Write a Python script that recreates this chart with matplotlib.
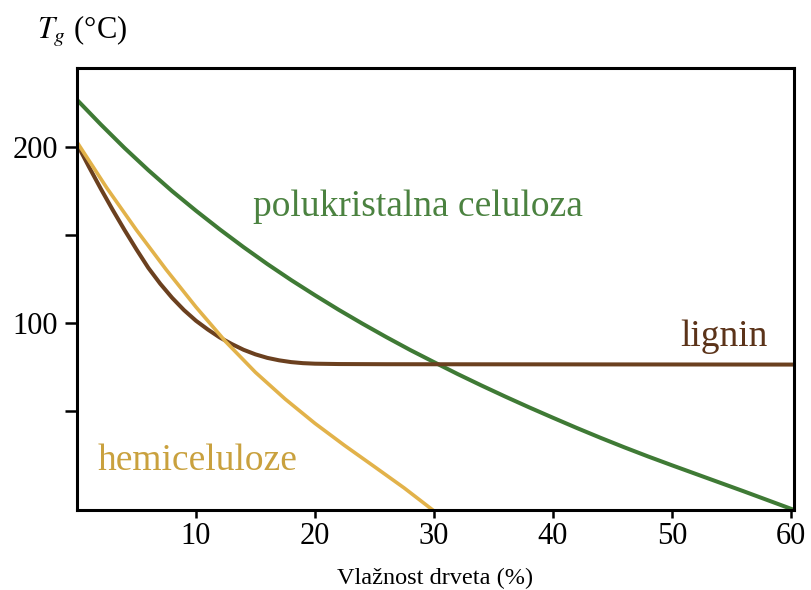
"""
Glass transition temperature of wood components vs. moisture content.
Values read off the reference figure.
"""

import matplotlib

matplotlib.use("Agg")
import matplotlib.pyplot as plt

OUT_PATH = "out.png"

# polukristalna celuloza
CELULOZA_X = [0, 2, 4, 6, 8, 10, 12, 14, 16, 18, 20, 22, 24, 26, 28, 30,
              32, 34, 36, 38, 40, 42, 44, 46, 48, 50, 52, 54, 56, 58, 60.2]
CELULOZA_Y = [227, 213, 199.6, 187, 175.1, 164, 153.4, 143.3, 133.7, 124.6, 116,
              107.7, 99.8, 92.2, 84.9, 78, 71.2, 64.7, 58.4, 52.3, 46.4,
              40.6, 35, 29.6, 24.4, 19.4, 14.5, 9.6, 4.7, -0.3, -5.8]

# lignin
LIGNIN_X = [0, 1, 2, 3, 4, 5, 6, 7, 8, 9, 10, 11, 12, 13, 14, 15, 16, 17, 18,
            19, 20, 22, 26, 60.2]
LIGNIN_Y = [202, 189, 176.5, 164.5, 153, 142, 131.5, 122.5, 114.5, 107.5, 101.5,
            96.5, 92, 88.3, 85, 82.4, 80.4, 79, 78, 77.4, 77.1, 76.9, 76.8, 76.6]

# hemiceluloze
HEMI_X = [0, 2.5, 5, 7.5, 10, 12.5, 15, 17.5, 20, 22.5, 25, 27.5, 29.9]
HEMI_Y = [203, 177, 153, 130.5, 109.3, 89.6, 72.2, 57, 43.2, 30.6, 18.6, 6.5, -6]

X_TICKS = [10, 20, 30, 40, 50, 60]
Y_TICKS = [50, 100, 150, 200]
Y_TICK_LABELS = ["", "100", "", "200"]

GREEN = "#3f7a35"
BROWN = "#6b401f"
YELLOW = "#e2b24a"

plt.rcParams["font.family"] = ["Liberation Serif", "DejaVu Serif"]
plt.rcParams["mathtext.fontset"] = "stix"


def plot_chart() -> None:
    fig = plt.figure(figsize=(8.11, 5.90), dpi=100)
    ax = fig.add_axes([0.0949, 0.1356, 0.884, 0.749])

    ax.plot(CELULOZA_X, CELULOZA_Y, color=GREEN, lw=2.9, solid_joinstyle="round")
    ax.plot(LIGNIN_X, LIGNIN_Y, color=BROWN, lw=2.9, solid_joinstyle="round")
    ax.plot(HEMI_X, HEMI_Y, color=YELLOW, lw=2.6, solid_joinstyle="round")

    ax.text(14.8, 161, "polukristalna celuloza", color="#4b8240", fontsize=27, va="baseline")
    ax.text(50.7, 87, "lignin", color="#5b3319", fontsize=27, va="baseline")
    ax.text(1.7, 17, "hemiceluloze", color="#c9a13e", fontsize=27, va="baseline")

    ax.set_xlim(0, 60.25)
    ax.set_ylim(-6, 245)
    ax.set_xticks(X_TICKS)
    ax.set_yticks(Y_TICKS)
    ax.set_yticklabels(Y_TICK_LABELS)
    ax.tick_params(axis="x", direction="out", length=6, width=1.8, labelsize=22, pad=3)
    ax.tick_params(axis="y", direction="out", length=8.5, width=1.8, labelsize=22, pad=5)
    for spine in ax.spines.values():
        spine.set_linewidth(2.2)

    ax.set_xlabel("Vlažnost drveta (%)", fontsize=17.5, labelpad=12)
    fig.text(37 / 811, 1 - 32 / 590, r"$T_g$ (°C)", fontsize=22, va="center", ha="left")

    fig.savefig(OUT_PATH, dpi=100)
    plt.close(fig)


if __name__ == "__main__":
    plot_chart()
